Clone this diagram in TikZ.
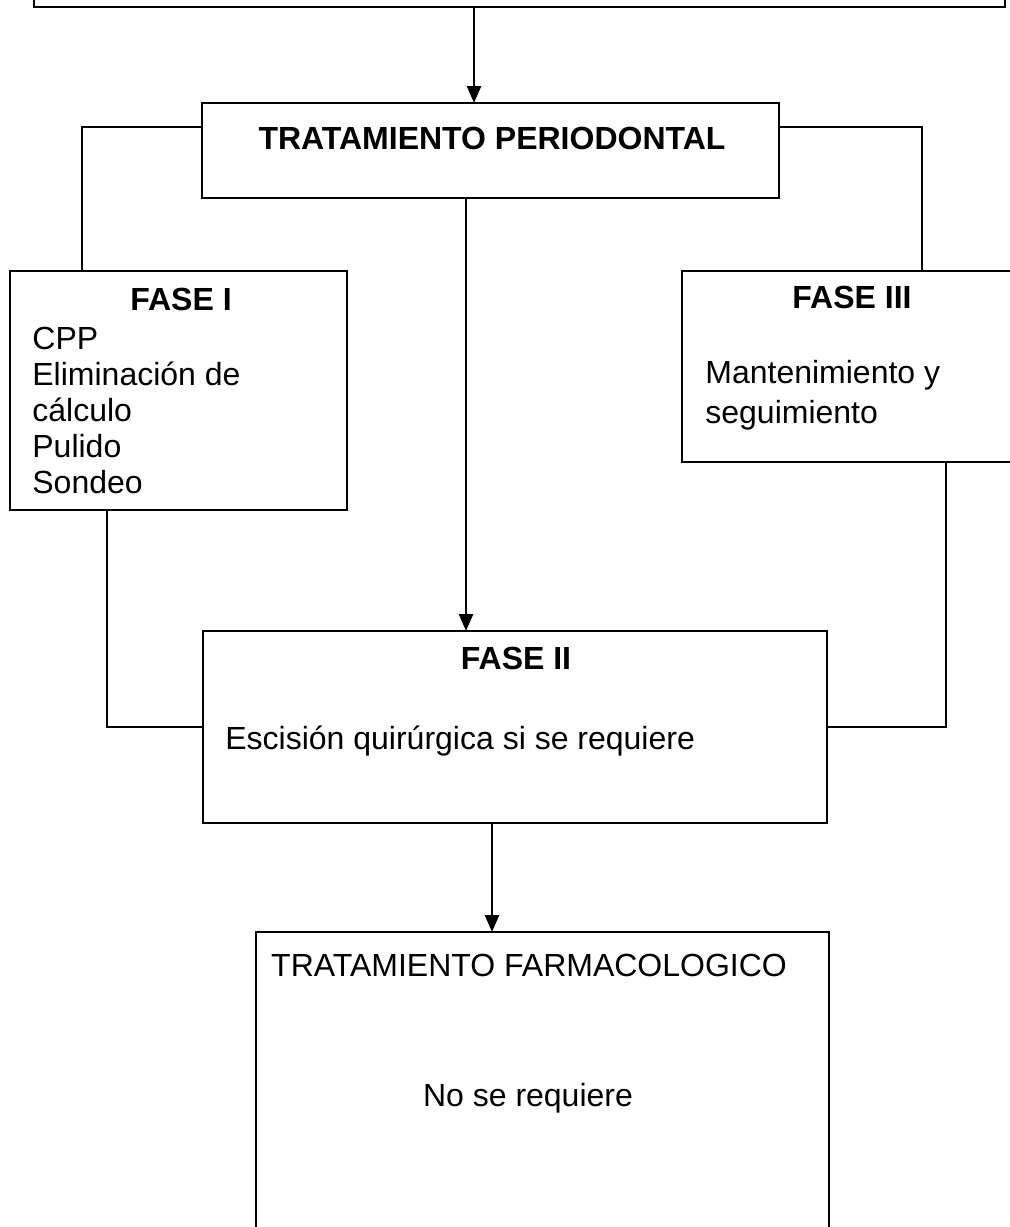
\documentclass[tikz,border=0pt]{standalone}
\usepackage{fontspec}
\setmainfont{Liberation Sans}
\usetikzlibrary{calc,arrows.meta,positioning}

\tikzset{
  caja/.style={draw,line width=1.3pt,inner sep=0pt,outer sep=0pt},
  linea/.style={line width=1.3pt},
  flecha/.style={linea,-{Triangle[length=8.5pt,width=7pt]}},
  titulo/.style={font=\fontsize{16}{19}\selectfont\bfseries,anchor=base,inner sep=0pt},
  texto/.style={font=\fontsize{16}{19}\selectfont,anchor=base west,inner sep=0pt},
  centrado/.style={font=\fontsize{16}{19}\selectfont,anchor=base,inner sep=0pt}
}

\begin{document}
\begin{tikzpicture}[x=0.5pt,y=-0.5pt,line cap=butt]
  \useasboundingbox (0,0) rectangle (1010,1227);

  % cajas
  \node[caja,minimum width=485.5pt,minimum height=23.5pt] (inicio) at (519.5,-16.5) {};
  \node[caja,minimum width=288.5pt,minimum height=47.5pt] (periodontal) at (490.5,150.5) {};
  \node[caja,minimum width=168.5pt,minimum height=119.5pt] (fase1) at (178.5,390.5) {};
  \node[caja,minimum width=170pt,minimum height=95.5pt] (fase3) at (852,366.5) {};
  \node[caja,minimum width=312pt,minimum height=96pt] (fase2) at (515,727) {};
  \node[caja,minimum width=286.5pt,minimum height=164pt] (farmaco) at (542.5,1096) {};

  % textos
  \node[titulo] (tPer) at (492,149) {TRATAMIENTO PERIODONTAL};
  \node[titulo] (tF1) at (181,310) {FASE I};
  \foreach \linea [count=\i] in {CPP,Eliminación de,cálculo,Pulido,Sondeo}
    \node[texto] (f1l\i) at (32,{349+36*(\i-1)}) {\linea};
  \node[titulo] (tF3) at (852,308) {FASE III};
  \node[texto] (f3l1) at (705,383) {Mantenimiento y};
  \node[texto] (f3l2) at (705,423) {seguimiento};
  \node[titulo] (tF2) at (516,669) {FASE II};
  \node[texto] (f2l1) at (225,749) {Escisión quirúrgica si se requiere};
  \node[centrado] (tFar) at (529,976) {TRATAMIENTO FARMACOLOGICO};
  \node[centrado] (farl1) at (528,1106) {No se requiere};

  % conectores
  \coordinate (ejeA) at (474,0);
  \coordinate (ejeB) at (466,0);
  \coordinate (ejeC) at (492,0);
  \coordinate (codoI) at (82,127);
  \coordinate (codoD) at (922,127);
  \coordinate (codoIb) at (107,727);
  \coordinate (codoDb) at (946,727);

  \draw[flecha] (inicio.south -| ejeA) -- (periodontal.north -| ejeA);
  \draw[linea] (periodontal.west |- codoI) -- (codoI) -- (codoI |- fase1.north);
  \draw[linea] (periodontal.east |- codoD) -- (codoD) -- (codoD |- fase3.north);
  \draw[flecha] (periodontal.south -| ejeB) -- (fase2.north -| ejeB);
  \draw[linea] (fase1.south -| codoIb) -- (codoIb) -- (fase2.west);
  \draw[linea] (fase3.south -| codoDb) -- (codoDb) -- (fase2.east);
  \draw[flecha] (fase2.south -| ejeC) -- (farmaco.north -| ejeC);
\end{tikzpicture}
\end{document}
